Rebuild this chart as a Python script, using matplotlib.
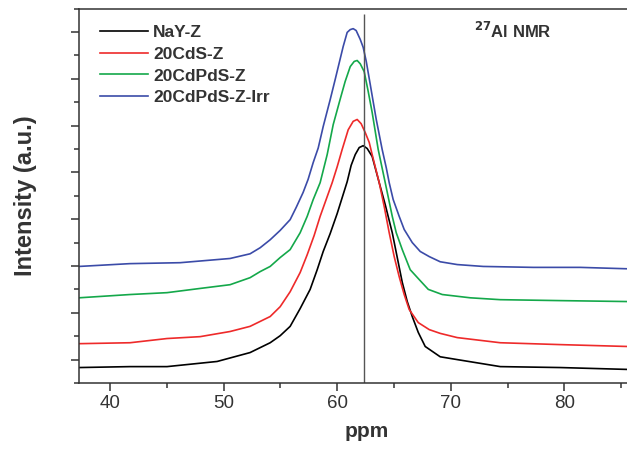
import matplotlib.pyplot as plt
from matplotlib.ticker import MultipleLocator

plt.rcParams['font.family'] = ['Liberation Sans', 'DejaVu Sans']

# NaY-Z
nay_ppm = [37.27, 41.76, 45.02, 49.43, 52.33, 54.10, 54.98, 55.86, 56.74, 57.62, 58.24, 58.77,
           59.38, 60.00, 60.44, 60.88, 61.23, 61.59, 61.94, 62.29, 62.64, 63.08, 63.70, 64.23,
           64.85, 65.29, 65.73, 66.17, 66.61, 67.14, 67.75, 69.07, 70.57, 74.36, 79.65, 85.55, 88.0]
nay_int = [0.83, 0.85, 0.85, 0.96, 1.15, 1.36, 1.51, 1.71, 2.09, 2.50, 2.92, 3.31,
           3.69, 4.12, 4.46, 4.80, 5.15, 5.38, 5.53, 5.57, 5.51, 5.34, 4.78, 4.31,
           3.71, 3.18, 2.65, 2.24, 1.92, 1.58, 1.28, 1.06, 1.00, 0.85, 0.83, 0.79, 0.79]

# 20CdS-Z
cds_ppm = [37.27, 41.76, 45.02, 47.93, 50.57, 52.33, 54.10, 54.98, 55.86, 56.74, 57.36, 57.97,
           58.50, 59.03, 59.56, 60.00, 60.44, 60.97, 61.41, 61.76, 62.11, 62.47, 62.82, 63.08,
           63.70, 64.14, 64.58, 65.02, 65.46, 65.90, 66.34, 67.14, 68.11, 69.07, 70.57, 74.36,
           79.65, 85.55, 88.0]
cds_int = [1.34, 1.36, 1.45, 1.49, 1.60, 1.71, 1.92, 2.13, 2.45, 2.86, 3.24, 3.65,
           4.06, 4.42, 4.78, 5.12, 5.49, 5.91, 6.09, 6.13, 6.04, 5.85, 5.64, 5.38,
           4.78, 4.27, 3.71, 3.20, 2.77, 2.39, 2.07, 1.79, 1.64, 1.56, 1.47, 1.36,
           1.32, 1.28, 1.28]

# 20CdPdS-Z
cdpds_ppm = [37.27, 41.76, 45.02, 47.93, 50.57, 52.33, 53.22, 54.10, 54.98, 55.86, 56.74, 57.36,
             57.89, 58.50, 59.12, 59.65, 60.26, 60.70, 61.15, 61.50, 61.76, 62.03, 62.38, 62.73,
             63.08, 63.61, 64.23, 64.85, 65.20, 65.73, 66.43, 67.22, 68.02, 69.25, 71.72, 74.36,
             79.65, 85.55, 88.0]
cdpds_int = [2.32, 2.39, 2.43, 2.52, 2.60, 2.75, 2.88, 2.99, 3.18, 3.35, 3.71, 4.06,
             4.42, 4.78, 5.38, 6.02, 6.56, 6.94, 7.26, 7.37, 7.39, 7.32, 7.15, 6.73,
             6.28, 5.49, 4.78, 4.06, 3.71, 3.35, 2.92, 2.71, 2.50, 2.39, 2.32, 2.28,
             2.26, 2.24, 2.24]

# 20CdPdS-Z-Irr
irr_ppm = [37.27, 41.76, 46.17, 50.57, 52.33, 53.22, 54.10, 54.98, 55.86, 56.39, 57.00, 57.44,
           57.89, 58.33, 58.77, 59.38, 59.82, 60.53, 60.88, 61.15, 61.41, 61.67, 62.03, 62.29,
           62.56, 62.91, 63.17, 63.44, 63.70, 63.96, 64.32, 64.58, 64.93, 65.46, 65.90, 66.61,
           67.31, 68.11, 69.07, 70.57, 72.86, 77.27, 81.41, 85.55, 88.0]
irr_int = [2.99, 3.05, 3.07, 3.16, 3.26, 3.39, 3.56, 3.76, 3.99, 4.25, 4.57, 4.85,
           5.21, 5.52, 5.98, 6.55, 6.98, 7.69, 7.99, 8.05, 8.07, 8.03, 7.84, 7.67,
           7.37, 6.88, 6.51, 6.13, 5.81, 5.49, 5.10, 4.78, 4.42, 4.06, 3.78, 3.50,
           3.31, 3.20, 3.09, 3.03, 2.99, 2.97, 2.97, 2.94, 2.94]

ref_ppm = 62.38

fig = plt.figure(figsize=(6.27, 4.49), dpi=100)
ax = fig.add_axes([0.126, 0.147, 0.919, 0.834])

ax.plot(nay_ppm, nay_int, color='black', lw=1.2, label='NaY-Z')
ax.plot(cds_ppm, cds_int, color='#ee2a2a', lw=1.2, label='20CdS-Z')
ax.plot(cdpds_ppm, cdpds_int, color='#14a84a', lw=1.2, label='20CdPdS-Z')
ax.plot(irr_ppm, irr_int, color='#3b4ba8', lw=1.2, label='20CdPdS-Z-Irr')
ax.vlines(ref_ppm, 0.5, 8.38, color='#555555', lw=1.0)

ax.set_xlim(37.27, 88.0)
ax.set_ylim(0.5, 8.5)
ax.xaxis.set_major_locator(MultipleLocator(10))
ax.xaxis.set_minor_locator(MultipleLocator(5))
ax.yaxis.set_major_locator(MultipleLocator(1))
ax.yaxis.set_minor_locator(MultipleLocator(0.5))
ax.set_yticklabels([])
ax.tick_params(which='both', direction='out', color='#333333', width=1.1)
ax.tick_params(which='major', length=6)
ax.tick_params(which='minor', length=3.5)
ax.tick_params(axis='x', labelsize=13.5, labelcolor='#333333', pad=3)
ax.spines['right'].set_visible(False)
for s in ['left', 'bottom', 'top']:
    ax.spines[s].set_color('#333333')
    ax.spines[s].set_linewidth(1.1)

ax.set_xlabel('ppm', fontsize=15, fontweight='bold', color='#333333', labelpad=7)
ax.set_ylabel('Intensity (a.u.)', fontsize=17, fontweight='bold', color='#333333', labelpad=21)

leg = ax.legend(loc='upper left', bbox_to_anchor=(0.0, 1.012), frameon=False,
                prop={'weight': 'bold', 'size': 12.5}, handlelength=2.76,
                handletextpad=0.3, labelspacing=0.38, borderaxespad=0.8)
for t in leg.get_texts():
    t.set_color('#333333')

ax.text(0.685, 0.94, r'$^{\mathbf{27}}$Al NMR', transform=ax.transAxes, fontsize=12,
        fontweight='bold', color='#333333', va='center', ha='left')

fig.savefig('out.png', dpi=100)
